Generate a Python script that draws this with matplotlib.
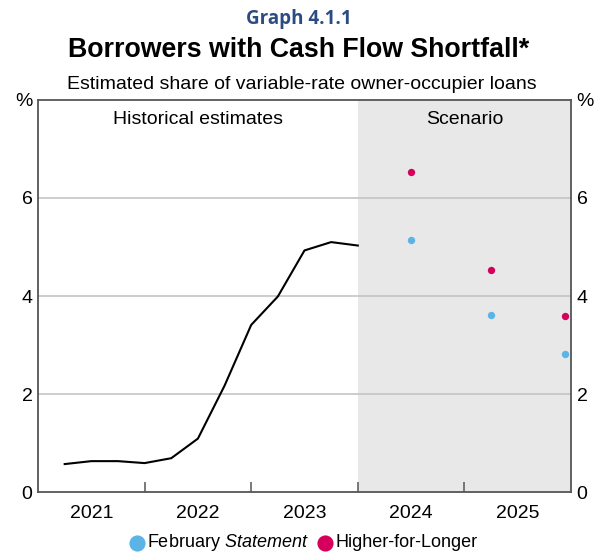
import numpy as np
import matplotlib.pyplot as plt

plt.rcParams['font.family'] = ['Liberation Sans', 'DejaVu Sans']
plt.rcParams['mathtext.fontset'] = 'custom'
plt.rcParams['mathtext.it'] = 'Liberation Sans:italic'
plt.rcParams['mathtext.rm'] = 'Liberation Sans'

# historical estimates, quarterly
hist_x = [2021.25, 2021.5, 2021.75, 2022.0, 2022.25, 2022.5, 2022.75,
          2023.0, 2023.25, 2023.5, 2023.75, 2024.0]
hist_y = [0.57, 0.63, 0.63, 0.59, 0.69, 1.09, 2.17, 3.41, 3.99, 4.93, 5.10, 5.03]

# scenario points
scen_x = [2024.5, 2025.25, 2025.94]
feb_y = [5.14, 3.61, 2.82]
hfl_y = [6.53, 4.54, 3.59]

year_labels = ['2021', '2022', '2023', '2024', '2025']
yticks = [0, 2, 4, 6, 8]
ytick_labels = ['0', '2', '4', '6', '%']

spine_col = '#555555'
blue_dot = '#5ab4e5'
red_dot = '#d6005c'

fig = plt.figure(figsize=(5.97, 5.54), dpi=100)
ax = fig.add_axes([0.0637, 0.1119, 0.8927, 0.7076])

ax.axvspan(2024.0, 2026.0, color='#e8e8e8', zorder=0, lw=0)
for g in [2, 4, 6]:
    ax.axhline(g, color='#c0c0c0', lw=1.1, zorder=1)

ax.plot(hist_x, hist_y, color='black', lw=1.5, zorder=3)
ax.scatter(scen_x, feb_y, s=28, color=blue_dot, zorder=4, lw=0,
           label='February $\\it{Statement}$')
ax.scatter(scen_x, hfl_y, s=28, color=red_dot, zorder=4, lw=0,
           label='Higher-for-Longer')

ax.set_xlim(2021, 2026)
ax.set_ylim(0, 8)

# year ticks at boundaries, labels in the middle of each year
ax.set_xticks([2022, 2023, 2024, 2025])
ax.set_xticklabels([])
ax.tick_params(axis='x', which='major', direction='in', length=7, width=1.1,
               color=spine_col)
ax.set_xticks([y + 0.5 for y in range(2021, 2026)], minor=True)
ax.set_xticklabels(year_labels, minor=True, fontsize=14)
ax.tick_params(axis='x', which='minor', length=0, pad=9)

ax.set_yticks(yticks)
ax.set_yticklabels(ytick_labels, fontsize=14)
ax.tick_params(axis='y', length=0, pad=4, labelright=True, right=False)

for s in ax.spines.values():
    s.set_color(spine_col)
    s.set_linewidth(1.3)

ax.text(2022.5, 7.6, 'Historical estimates', ha='center', va='center', fontsize=14)
ax.text(2025.0, 7.6, 'Scenario', ha='center', va='center', fontsize=14)

fig.text(0.5, 0.965, 'Graph 4.1.1', ha='center', va='center', fontsize=13.5,
         fontweight='bold', color='#2b4c82', family=['Open Sans', 'DejaVu Sans'])
fig.text(0.5, 0.909, 'Borrowers with Cash Flow Shortfall*', ha='center', va='center',
         fontsize=19.3, fontweight='bold')
fig.text(0.505, 0.848, 'Estimated share of variable-rate owner-occupier loans',
         ha='center', va='center', fontsize=14)

fig.legend(loc='center', bbox_to_anchor=(0.507, 0.02), ncol=2, frameon=False,
           fontsize=13, handlelength=1.0, handletextpad=0.05, columnspacing=0.4,
           markerscale=2.2, borderaxespad=0)

fig.savefig('out.png', dpi=100)
